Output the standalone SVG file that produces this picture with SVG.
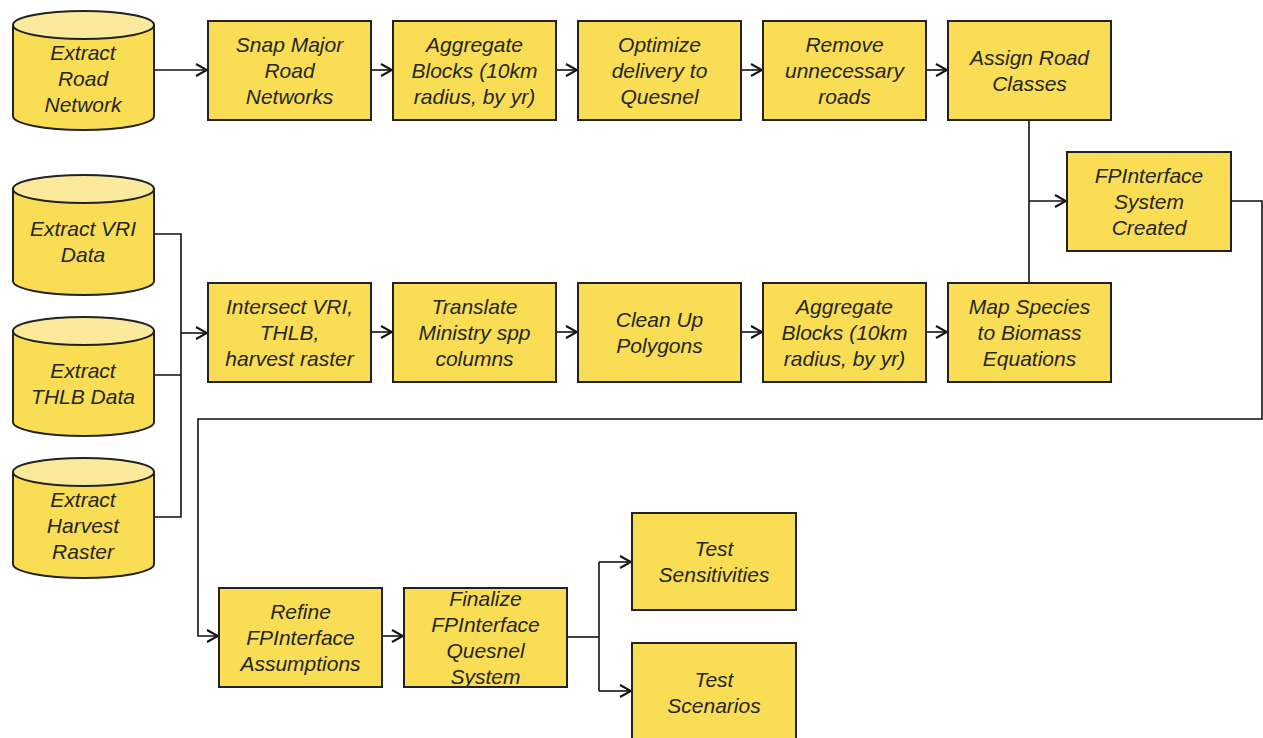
<svg xmlns="http://www.w3.org/2000/svg" width="1263" height="738" viewBox="0 0 1263 738">
<defs>
<style>
.box{fill:#F9DD55;stroke:#222;stroke-width:2}
.cyl{fill:#F9DD55;stroke:#222;stroke-width:2}
.cyltop{fill:#FCEA9C;stroke:#222;stroke-width:2}
.t{font-family:"Liberation Sans",Arial,sans-serif;font-style:italic;font-size:21px;fill:#262626;text-anchor:middle;dominant-baseline:central}
.c{fill:none;stroke:#111;stroke-width:1.6}
</style>
<marker id="ah" viewBox="0 0 13 15" refX="12" refY="7.5" markerWidth="13" markerHeight="15" markerUnits="userSpaceOnUse" orient="auto">
<polyline points="1,1.5 12,7.5 1,13.5" fill="none" stroke="#111" stroke-width="2"/>
</marker>
</defs>
<rect width="1263" height="738" fill="#fff"/>

<g id="connectors">
<path class="c" d="M154,70 H207" marker-end="url(#ah)"/>
<path class="c" d="M371,70 H392" marker-end="url(#ah)"/>
<path class="c" d="M556,70 H577" marker-end="url(#ah)"/>
<path class="c" d="M741,70 H762" marker-end="url(#ah)"/>
<path class="c" d="M926,70 H947" marker-end="url(#ah)"/>
<path class="c" d="M154,234 H181 V517 H154 M154,375 H181"/>
<path class="c" d="M181,333 H207" marker-end="url(#ah)"/>
<path class="c" d="M371,332 H392" marker-end="url(#ah)"/>
<path class="c" d="M556,332 H577" marker-end="url(#ah)"/>
<path class="c" d="M741,332 H762" marker-end="url(#ah)"/>
<path class="c" d="M926,332 H947" marker-end="url(#ah)"/>
<path class="c" d="M1029,120 V283"/>
<path class="c" d="M1029,201 H1066" marker-end="url(#ah)"/>
<path class="c" d="M1231,201 H1262 V419 H198 V636 H218" marker-end="url(#ah)"/>
<path class="c" d="M382,636 H403" marker-end="url(#ah)"/>
<path class="c" d="M567,637 H599"/>
<path class="c" d="M599,562 V691"/>
<path class="c" d="M599,562 H631" marker-end="url(#ah)"/>
<path class="c" d="M599,691 H631" marker-end="url(#ah)"/>
</g>

<g id="n-extract-road">
<path class="cyl" d="M13,25 V116 A70.5,14 0 0 0 154,116 V25 Z"/>
<ellipse class="cyltop" cx="83.5" cy="25" rx="70.5" ry="14"/>
<text class="t" x="83" y="52">Extract</text>
<text class="t" x="83" y="78">Road</text>
<text class="t" x="83" y="104">Network</text>
</g>
<g id="n-extract-vri">
<path class="cyl" d="M13,189 V281 A70.5,14 0 0 0 154,281 V189 Z"/>
<ellipse class="cyltop" cx="83.5" cy="189" rx="70.5" ry="14"/>
<text class="t" x="83" y="228">Extract VRI</text>
<text class="t" x="83" y="254">Data</text>
</g>
<g id="n-extract-thlb">
<path class="cyl" d="M13,331 V422 A70.5,14 0 0 0 154,422 V331 Z"/>
<ellipse class="cyltop" cx="83.5" cy="331" rx="70.5" ry="14"/>
<text class="t" x="83" y="370">Extract</text>
<text class="t" x="83" y="396">THLB Data</text>
</g>
<g id="n-extract-harvest">
<path class="cyl" d="M13,472 V564 A70.5,14 0 0 0 154,564 V472 Z"/>
<ellipse class="cyltop" cx="83.5" cy="472" rx="70.5" ry="14"/>
<text class="t" x="83" y="499">Extract</text>
<text class="t" x="83" y="525">Harvest</text>
<text class="t" x="83" y="551">Raster</text>
</g>

<g id="n-snap">
<rect class="box" x="208" y="21" width="163" height="99"/>
<text class="t" x="289.5" y="44">Snap Major</text>
<text class="t" x="289.5" y="70">Road</text>
<text class="t" x="289.5" y="96">Networks</text>
</g>
<g id="n-aggregate1">
<rect class="box" x="393" y="21" width="163" height="99"/>
<text class="t" x="474.5" y="44">Aggregate</text>
<text class="t" x="474.5" y="70">Blocks (10km</text>
<text class="t" x="474.5" y="96">radius, by yr)</text>
</g>
<g id="n-optimize">
<rect class="box" x="578" y="21" width="163" height="99"/>
<text class="t" x="659.5" y="44">Optimize</text>
<text class="t" x="659.5" y="70">delivery to</text>
<text class="t" x="659.5" y="96">Quesnel</text>
</g>
<g id="n-remove">
<rect class="box" x="763" y="21" width="163" height="99"/>
<text class="t" x="844.5" y="44">Remove</text>
<text class="t" x="844.5" y="70">unnecessary</text>
<text class="t" x="844.5" y="96">roads</text>
</g>
<g id="n-assign">
<rect class="box" x="948" y="21" width="163" height="99"/>
<text class="t" x="1029.5" y="57">Assign Road</text>
<text class="t" x="1029.5" y="83">Classes</text>
</g>

<g id="n-fpi-created">
<rect class="box" x="1067" y="152" width="164" height="99"/>
<text class="t" x="1149" y="175">FPInterface</text>
<text class="t" x="1149" y="201">System</text>
<text class="t" x="1149" y="227">Created</text>
</g>

<g id="n-intersect">
<rect class="box" x="208" y="283" width="163" height="99"/>
<text class="t" x="289.5" y="306">Intersect VRI,</text>
<text class="t" x="289.5" y="332">THLB,</text>
<text class="t" x="289.5" y="358">harvest raster</text>
</g>
<g id="n-translate">
<rect class="box" x="393" y="283" width="163" height="99"/>
<text class="t" x="474.5" y="306">Translate</text>
<text class="t" x="474.5" y="332">Ministry spp</text>
<text class="t" x="474.5" y="358">columns</text>
</g>
<g id="n-cleanup">
<rect class="box" x="578" y="283" width="163" height="99"/>
<text class="t" x="659.5" y="319">Clean Up</text>
<text class="t" x="659.5" y="345">Polygons</text>
</g>
<g id="n-aggregate2">
<rect class="box" x="763" y="283" width="163" height="99"/>
<text class="t" x="844.5" y="306">Aggregate</text>
<text class="t" x="844.5" y="332">Blocks (10km</text>
<text class="t" x="844.5" y="358">radius, by yr)</text>
</g>
<g id="n-mapspecies">
<rect class="box" x="948" y="283" width="163" height="99"/>
<text class="t" x="1029.5" y="306">Map Species</text>
<text class="t" x="1029.5" y="332">to Biomass</text>
<text class="t" x="1029.5" y="358">Equations</text>
</g>

<g id="n-refine">
<rect class="box" x="219" y="588" width="163" height="99"/>
<text class="t" x="300.5" y="611">Refine</text>
<text class="t" x="300.5" y="637">FPInterface</text>
<text class="t" x="300.5" y="663">Assumptions</text>
</g>
<g id="n-finalize">
<rect class="box" x="404" y="588" width="163" height="99"/>
<text class="t" x="485.5" y="598">Finalize</text>
<text class="t" x="485.5" y="624">FPInterface</text>
<text class="t" x="485.5" y="650">Quesnel</text>
<text class="t" x="485.5" y="676">System</text>
</g>
<g id="n-test-sens">
<rect class="box" x="632" y="513" width="164" height="97"/>
<text class="t" x="714" y="548">Test</text>
<text class="t" x="714" y="574">Sensitivities</text>
</g>
<g id="n-test-scen">
<rect class="box" x="632" y="643" width="164" height="99"/>
<text class="t" x="714" y="679">Test</text>
<text class="t" x="714" y="705">Scenarios</text>
</g>
</svg>
